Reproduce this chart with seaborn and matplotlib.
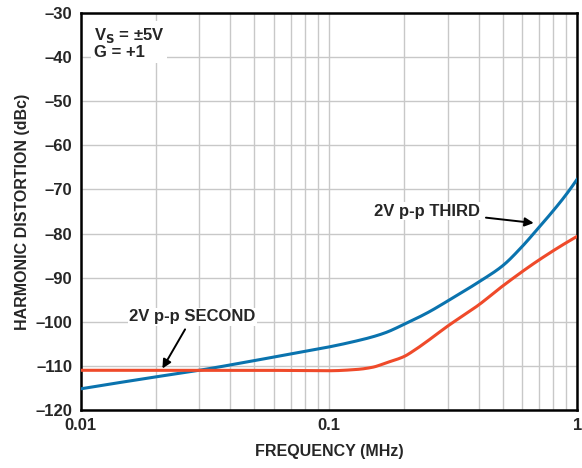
import pandas as pd
import numpy as np
import matplotlib.pyplot as plt
import seaborn as sns
from matplotlib.ticker import FixedLocator, LogLocator, NullFormatter

#Harmonic distortion vs frequency
third_freq = [0.01, 0.02, 0.03, 0.05, 0.07, 0.1, 0.13, 0.15, 0.17, 0.2, 0.25, 0.3, 0.4, 0.5, 0.6, 0.7, 0.8, 0.9, 1.0]
third_dbc = [-115.2, -112.5, -111.0, -108.8, -107.3, -105.7, -104.3, -103.4, -102.4, -100.6, -97.9, -95.3, -91.0,
             -87.3, -82.9, -78.6, -74.8, -71.2, -67.6]

second_freq = [0.01, 0.03, 0.05, 0.1, 0.13, 0.15, 0.17, 0.2, 0.22, 0.25, 0.3, 0.4, 0.5, 0.7, 1.0]
second_dbc = [-111.0, -111.0, -111.0, -111.1, -110.8, -110.3, -109.3, -107.9, -106.5, -104.3, -101.0, -96.2, -91.9, -86.0, -80.6]

x_ticks = [0.01, 0.1, 1]
x_tick_labels = ["0.01", "0.1", "1"]
y_ticks = list(range(-120, -29, 10))


def smooth(freq, vals):
    #interpolate in log-frequency so the lines look like the smooth original curves
    lx = np.log10(freq)
    fine = np.linspace(lx[0], lx[-1], 400)
    s = pd.Series(vals, index=lx)
    s = s.reindex(sorted(set(list(lx) + list(fine)))).interpolate(method="pchip")
    return 10 ** s.index.values, s.values


def main():
    sns.set_style("white")
    plt.rcParams["font.family"] = ["Liberation Sans", "DejaVu Sans"]
    plt.rcParams["font.weight"] = "bold"

    fx3, fy3 = smooth(third_freq, third_dbc)
    fx2, fy2 = smooth(second_freq, second_dbc)
    df = pd.concat([
        pd.DataFrame({"freq": fx3, "dbc": fy3, "series": "THIRD"}),
        pd.DataFrame({"freq": fx2, "dbc": fy2, "series": "SECOND"}),
    ])

    fig = plt.figure(figsize=(5.82, 4.68), dpi=100)
    ax = fig.add_axes([0.139, 0.124, 0.853, 0.848])

    sns.lineplot(data=df, x="freq", y="dbc", hue="series",
                 palette={"THIRD": "#0a73ae", "SECOND": "#ef4a2a"},
                 linewidth=2.2, legend=False, ax=ax, zorder=3)

    ax.set_xscale("log")
    ax.set_xlim(0.01, 1)
    ax.set_ylim(-120, -30)
    ax.xaxis.set_major_locator(FixedLocator(x_ticks))
    ax.set_xticklabels(x_tick_labels)
    ax.xaxis.set_minor_locator(LogLocator(base=10, subs=np.arange(2, 10)))
    ax.xaxis.set_minor_formatter(NullFormatter())
    ax.set_yticks(y_ticks)
    ax.set_yticklabels([f"\u2013{abs(v)}" for v in y_ticks])

    ax.grid(True, which="both", color="#c8c8c8", linewidth=1.0)
    ax.tick_params(which="both", length=0, labelsize=12, pad=6)
    for lbl in ax.get_xticklabels() + ax.get_yticklabels():
        lbl.set_fontweight("bold")
    for sp in ax.spines.values():
        sp.set_linewidth(1.8)
        sp.set_color("black")

    ax.set_xlabel("FREQUENCY (MHz)", fontsize=11.5, fontweight="bold", labelpad=8)
    ax.set_ylabel("HARMONIC DISTORTION (dBc)", fontsize=11.5, fontweight="bold", labelpad=4)

    ax.text(0.0113, -33.0, "V$_\\mathbf{S}$ = \u00b15V\nG = +1", fontsize=12, fontweight="bold",
            va="top", ha="left", linespacing=1.0,
            bbox=dict(facecolor="white", edgecolor="none", pad=2), zorder=4)

    ax.annotate("2V p-p THIRD", xy=(0.667, -77.6), xytext=(0.249, -74.9),
                fontsize=12, fontweight="bold", ha="center", va="center",
                bbox=dict(facecolor="white", edgecolor="none", pad=1),
                arrowprops=dict(arrowstyle="-|>", color="black", lw=1.4, shrinkA=3, shrinkB=0,
                                mutation_scale=13), zorder=4)
    ax.annotate("2V p-p SECOND", xy=(0.0213, -110.6), xytext=(0.0281, -98.9),
                fontsize=12, fontweight="bold", ha="center", va="center",
                bbox=dict(facecolor="white", edgecolor="none", pad=1),
                arrowprops=dict(arrowstyle="-|>", color="black", lw=1.4, shrinkA=3, shrinkB=0,
                                mutation_scale=13), zorder=4)

    fig.savefig("out.png", dpi=100)
    plt.close()


if __name__ == "__main__":
    main()
